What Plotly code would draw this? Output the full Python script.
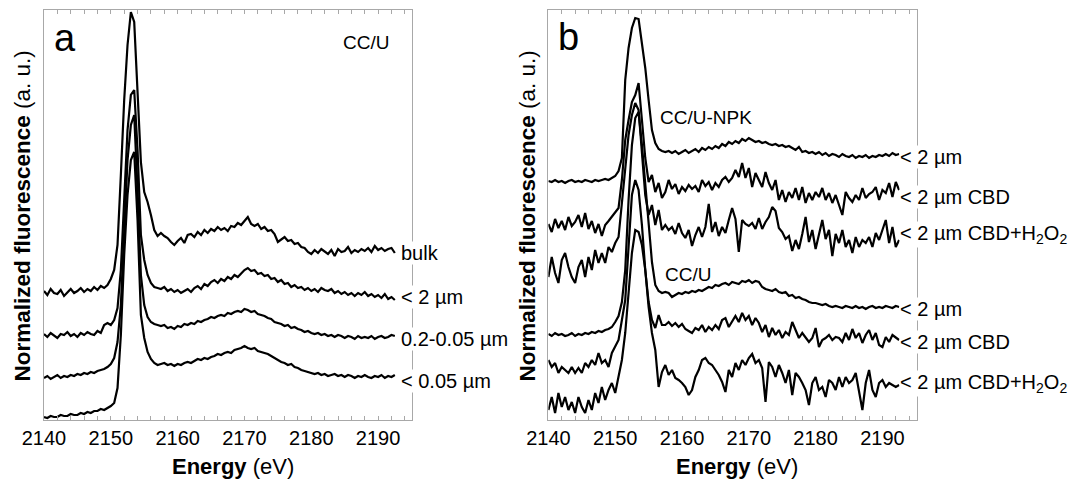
import plotly.graph_objects as go

# ---------------- data (normalized fluorescence, stacked, a.u.) ----------------
energy = [2140 + 0.5 * i for i in range(106)]  # eV grid, 2140 ... 2192.5

# Panel a : CC/U size fractions
a_bulk = [129, 125, 131, 127, 126, 130, 124, 128, 131, 127, 129, 132, 128, 131, 129, 133, 130, 134, 132, 135,
          141, 150, 175, 245, 320, 375, 408, 398, 330, 258, 228, 218, 205, 190, 184,
          187, 184, 182, 178, 175, 179, 182, 177, 185, 186, 183, 188, 185, 190, 187, 191, 189, 193, 190, 192,
          189, 194, 193, 197, 195, 199, 203, 196, 194, 196, 191, 193, 189, 190, 186, 178, 181, 183, 179, 180,
          176, 177, 173, 172, 168, 166, 170, 167, 171, 168, 166, 170, 164, 171, 168, 169, 173, 167, 170, 168,
          171, 169, 172, 168, 174, 170, 172, 169, 171, 172, 167]
a_lt2 = [86, 83, 87, 84, 82, 86, 85, 88, 84, 86, 83, 87, 85, 88, 86, 85, 89, 87, 95, 97,
         95, 100, 112, 150, 225, 290, 325, 330, 270, 185, 160, 145, 137, 133, 132,
         131, 133, 129, 131, 128, 130, 127, 129, 131, 128, 132, 134, 131, 136, 134, 138, 140, 137, 141, 139,
         143, 141, 145, 143, 147, 150, 152, 149, 150, 146, 147, 144, 145, 141, 142, 138, 140, 136, 137, 133,
         135, 132, 133, 130, 132, 129, 131, 128, 132, 130, 129, 131, 127, 129, 126, 128, 125, 127, 124, 127,
         125, 128, 124, 126, 123, 125, 122, 126, 121, 123, 120]
a_02_005 = [42, 44, 41, 43, 45, 42, 44, 43, 45, 44, 46, 45, 47, 46, 48, 47, 49, 50, 51, 53,
            56, 62, 78, 115, 190, 260, 295, 305, 230, 145, 115, 103, 98, 96, 95,
            94, 95, 92, 93, 91, 94, 93, 96, 95, 97, 96, 99, 98, 100, 101, 103, 102, 104, 105, 104,
            107, 106, 108, 109, 108, 111, 110, 108, 109, 106, 105, 104, 102, 101, 98, 97, 96, 94, 95, 92,
            93, 91, 90, 88, 89, 87, 86, 87, 85, 86, 84, 85, 83, 85, 84, 82, 84, 83, 81, 84,
            82, 83, 82, 84, 81, 83, 84, 82, 83, 85, 84]
a_lt005 = [3, 2, 4, 3, 3, 5, 4, 4, 6, 5, 5, 7, 6, 8, 7, 9, 9, 11, 10, 12,
           14, 17, 32, 85, 165, 225, 260, 268, 200, 105, 82, 68, 61, 57, 55,
           56, 57, 55, 56, 54, 56, 55, 57, 58, 57, 59, 61, 60, 62, 61, 63, 64, 66, 65, 67,
           68, 67, 70, 71, 72, 74, 72, 71, 72, 69, 68, 67, 66, 64, 62, 60, 58, 57, 55, 56,
           53, 52, 50, 49, 48, 47, 46, 47, 45, 46, 44, 45, 46, 44, 45, 43, 45, 44, 42, 44,
           43, 45, 43, 42, 44, 43, 45, 42, 44, 43, 45]

# Panel b : CC/U-NPK (top three) and CC/U (bottom three), < 2 um treatments
b_npk_lt2 = [239, 238, 240, 238, 239, 237, 239, 240, 238, 239, 238, 240, 239, 238, 240, 239, 240, 241, 240, 242,
             244, 249, 262, 340, 372, 392, 402, 401, 375, 352, 320, 290, 277, 271, 269,
             268, 269, 267, 269, 266, 268, 270, 267, 269, 271, 268, 272, 270, 273, 271, 274, 272, 276, 274, 278,
             276, 279, 277, 281, 279, 282, 280, 278, 279, 277, 278, 276, 275, 276, 274, 275, 273, 274, 272, 270,
             273, 268, 269, 267, 268, 266, 268, 265, 267, 264, 266, 265, 263, 266, 264, 263, 265, 262, 264, 263,
             265, 262, 264, 263, 265, 264, 266, 264, 267, 265, 266]
b_npk_cbd = [196, 188, 201, 192, 199, 190, 203, 194, 198, 205, 193, 207, 191, 199, 187, 196, 184, 195, 199, 203,
             208, 212, 240, 280, 300, 318, 325, 337, 300, 262, 238, 245, 228, 237, 222,
             228, 240, 231, 236, 226, 233, 229, 235, 231, 234, 228, 240, 234, 238, 230, 237, 233, 240, 243, 238,
             242, 250, 243, 257, 242, 252, 233, 247, 240, 233, 248, 237, 230, 240, 220, 230, 218, 228, 222, 232,
             220, 233, 217, 227, 220, 228, 223, 232, 220, 227, 217, 225, 215, 205, 228, 222, 218, 225, 220, 232,
             222, 226, 228, 233, 220, 230, 227, 237, 223, 238, 230]
b_npk_cbd_h2o2 = [143, 163, 147, 137, 160, 167, 153, 143, 137, 153, 160, 143, 163, 150, 170, 157, 167, 157, 173, 168,
                  177, 183, 217, 250, 285, 305, 317, 310, 270, 225, 205, 215, 195, 210, 190,
                  195, 190, 193, 186, 197, 187, 182, 190, 174, 185, 193, 183, 193, 216, 188, 198, 184, 193, 187, 200,
                  212, 201, 168, 200, 196, 194, 197, 191, 202, 191, 198, 203, 213, 209, 192, 188, 181, 184, 169, 180,
                  171, 186, 203, 178, 190, 171, 187, 200, 181, 190, 164, 186, 177, 190, 173, 180, 167, 183, 173, 180,
                  177, 183, 173, 187, 180, 190, 200, 177, 193, 173, 180]
b_cc_lt2 = [86, 84, 87, 85, 86, 84, 85, 87, 84, 86, 85, 87, 86, 88, 87, 89, 88, 90, 91, 93,
            98, 104, 118, 150, 220, 275, 302, 308, 275, 235, 190, 158, 135, 129, 127,
            128, 127, 123, 125, 127, 126, 128, 127, 129, 128, 130, 129, 131, 133, 132, 135, 134, 136, 137, 135,
            138, 137, 136, 139, 138, 140, 137, 139, 138, 133, 131, 130, 129, 131, 128, 127, 128, 124, 125, 122,
            123, 121, 120, 118, 117, 117, 116, 115, 116, 114, 113, 114, 113, 112, 114, 113, 112, 114, 112, 113,
            111, 113, 114, 112, 113, 112, 114, 113, 112, 114, 113]
b_cc_cbd = [60, 53, 57, 47, 53, 50, 47, 53, 47, 52, 47, 57, 53, 60, 55, 67, 57, 60, 53, 67,
            73, 80, 100, 120, 173, 225, 240, 230, 195, 150, 118, 100, 92, 105, 95,
            95, 98, 94, 97, 93, 96, 91, 89, 87, 92, 90, 95, 88, 93, 90, 95, 91, 100, 102, 93,
            98, 104, 98, 107, 100, 104, 95, 102, 97, 88, 95, 83, 92, 85, 90, 82, 88, 85, 98, 90,
            82, 87, 83, 78, 82, 92, 73, 80, 82, 85, 80, 83, 82, 78, 87, 80, 91, 82, 87, 77,
            85, 90, 80, 87, 75, 73, 83, 78, 85, 82, 80]
b_cc_cbd_h2o2 = [10, 23, 7, 27, 13, 23, 10, 18, 7, 23, 13, 7, 20, 10, 27, 17, 33, 20, 30, 37,
                 27, 43, 60, 87, 127, 167, 190, 188, 175, 150, 113, 87, 70, 33, 48,
                 55, 45, 50, 42, 40, 37, 33, 25, 30, 43, 50, 60, 62, 57, 55, 50, 45, 38, 28, 50,
                 43, 57, 50, 60, 55, 62, 66, 57, 60, 52, 18, 58, 53, 43, 55, 47, 37, 50, 25, 47,
                 43, 37, 30, 15, 37, 43, 30, 33, 23, 40, 37, 30, 43, 33, 43, 37, 40, 47, 30, 10,
                 37, 50, 30, 23, 37, 40, 33, 37, 35, 33, 35]

labels_a = ["bulk", "< 2 µm", "0.2-0.05 µm", "< 0.05 µm"]
labels_b = ["< 2 µm", "< 2 µm CBD", "< 2 µm CBD+H<sub>2</sub>O<sub>2</sub>",
            "< 2 µm", "< 2 µm CBD", "< 2 µm CBD+H<sub>2</sub>O<sub>2</sub>"]
series_a = [a_bulk, a_lt2, a_02_005, a_lt005]
series_b = [b_npk_lt2, b_npk_cbd, b_npk_cbd_h2o2, b_cc_lt2, b_cc_cbd, b_cc_cbd_h2o2]

x_range = [2140, 2195.1]
y_range = [0, 410.5]

# ---------------- figure ----------------
W, H = 1076, 484
FONT = "Liberation Sans, Arial, Helvetica, sans-serif"
FRAME = "#a8a8a8"


def fx(p):
    return p / W


def fy(p):
    return 1 - p / H


fig = go.Figure()
for vals in series_a:
    fig.add_trace(go.Scatter(x=energy[:len(vals)], y=vals, mode="lines",
                             line=dict(color="black", width=2.2),
                             xaxis="x", yaxis="y", showlegend=False, hoverinfo="skip"))
for vals in series_b:
    fig.add_trace(go.Scatter(x=energy[:len(vals)], y=vals, mode="lines",
                             line=dict(color="black", width=2.2),
                             xaxis="x2", yaxis="y2", showlegend=False, hoverinfo="skip"))

xcommon = dict(range=x_range, showline=True, linecolor=FRAME, linewidth=1, mirror="allticks",
               ticks="inside", ticklen=4, tickcolor=FRAME, tickwidth=1, tick0=2140, dtick=10,
               minor=dict(dtick=2, ticks="inside", ticklen=4, tickcolor=FRAME, tickwidth=1, showgrid=False),
               showgrid=False, zeroline=False, automargin=False,
               tickfont=dict(family=FONT, size=20, color="black"))
ycommon = dict(range=y_range, showline=True, linecolor=FRAME, linewidth=1, mirror=True,
               ticks="", showticklabels=False, showgrid=False, zeroline=False, automargin=False)

ydom = [fy(420), fy(9.5)]
fig.update_layout(
    width=W, height=H,
    margin=dict(l=0, r=0, t=0, b=0, pad=0),
    paper_bgcolor="white", plot_bgcolor="white",
    font=dict(family=FONT, color="black"),
    xaxis=dict(domain=[fx(44), fx(412.2)], anchor="y", **xcommon),
    yaxis=dict(domain=ydom, anchor="x", **ycommon),
    xaxis2=dict(domain=[fx(548.4), fx(916.5)], anchor="y2", **xcommon),
    yaxis2=dict(domain=ydom, anchor="x2", **ycommon),
)

ann = []


def add(text, x, y, size, xanchor="left", angle=0, bg=None):
    d = dict(text=text, x=fx(x), y=fy(y), xref="paper", yref="paper", showarrow=False,
             xanchor=xanchor, yanchor="middle", textangle=angle, borderpad=0,
             font=dict(family=FONT, size=size, color="black"))
    if bg:
        d["bgcolor"] = bg
    ann.append(d)


# panel letters and group labels
add("a", 53, 38, 38)
add("b", 557, 37, 38)
add("CC/U", 366, 42, 19, xanchor="center")
add("CC/U-NPK", 705.6, 117, 19, xanchor="center")
add("CC/U", 687.5, 274, 19, xanchor="center")

# curve labels
for txt, yc in zip(labels_a, [253, 297, 339, 380.5]):
    add(txt, 399.5, yc, 20, bg="white")
for txt, yc in zip(labels_b, [157, 197, 234, 308.5, 342, 383]):
    add(txt, 899.3, yc, 20, bg="white")

# axis titles
ytitle = "<b>Normalized fluorescence</b> (a. u.)"
add(ytitle, 22, 216.5, 22.5, xanchor="center", angle=-90)
add(ytitle, 527, 216.5, 22.5, xanchor="center", angle=-90)
add("<b>Energy</b> (eV)", 233, 466, 22, xanchor="center")
add("<b>Energy</b> (eV)", 737.5, 466, 22, xanchor="center")

fig.update_layout(annotations=ann)
fig.write_html("out.html", config={"displayModeBar": False},
               post_script="document.body.style.margin='0px';")
